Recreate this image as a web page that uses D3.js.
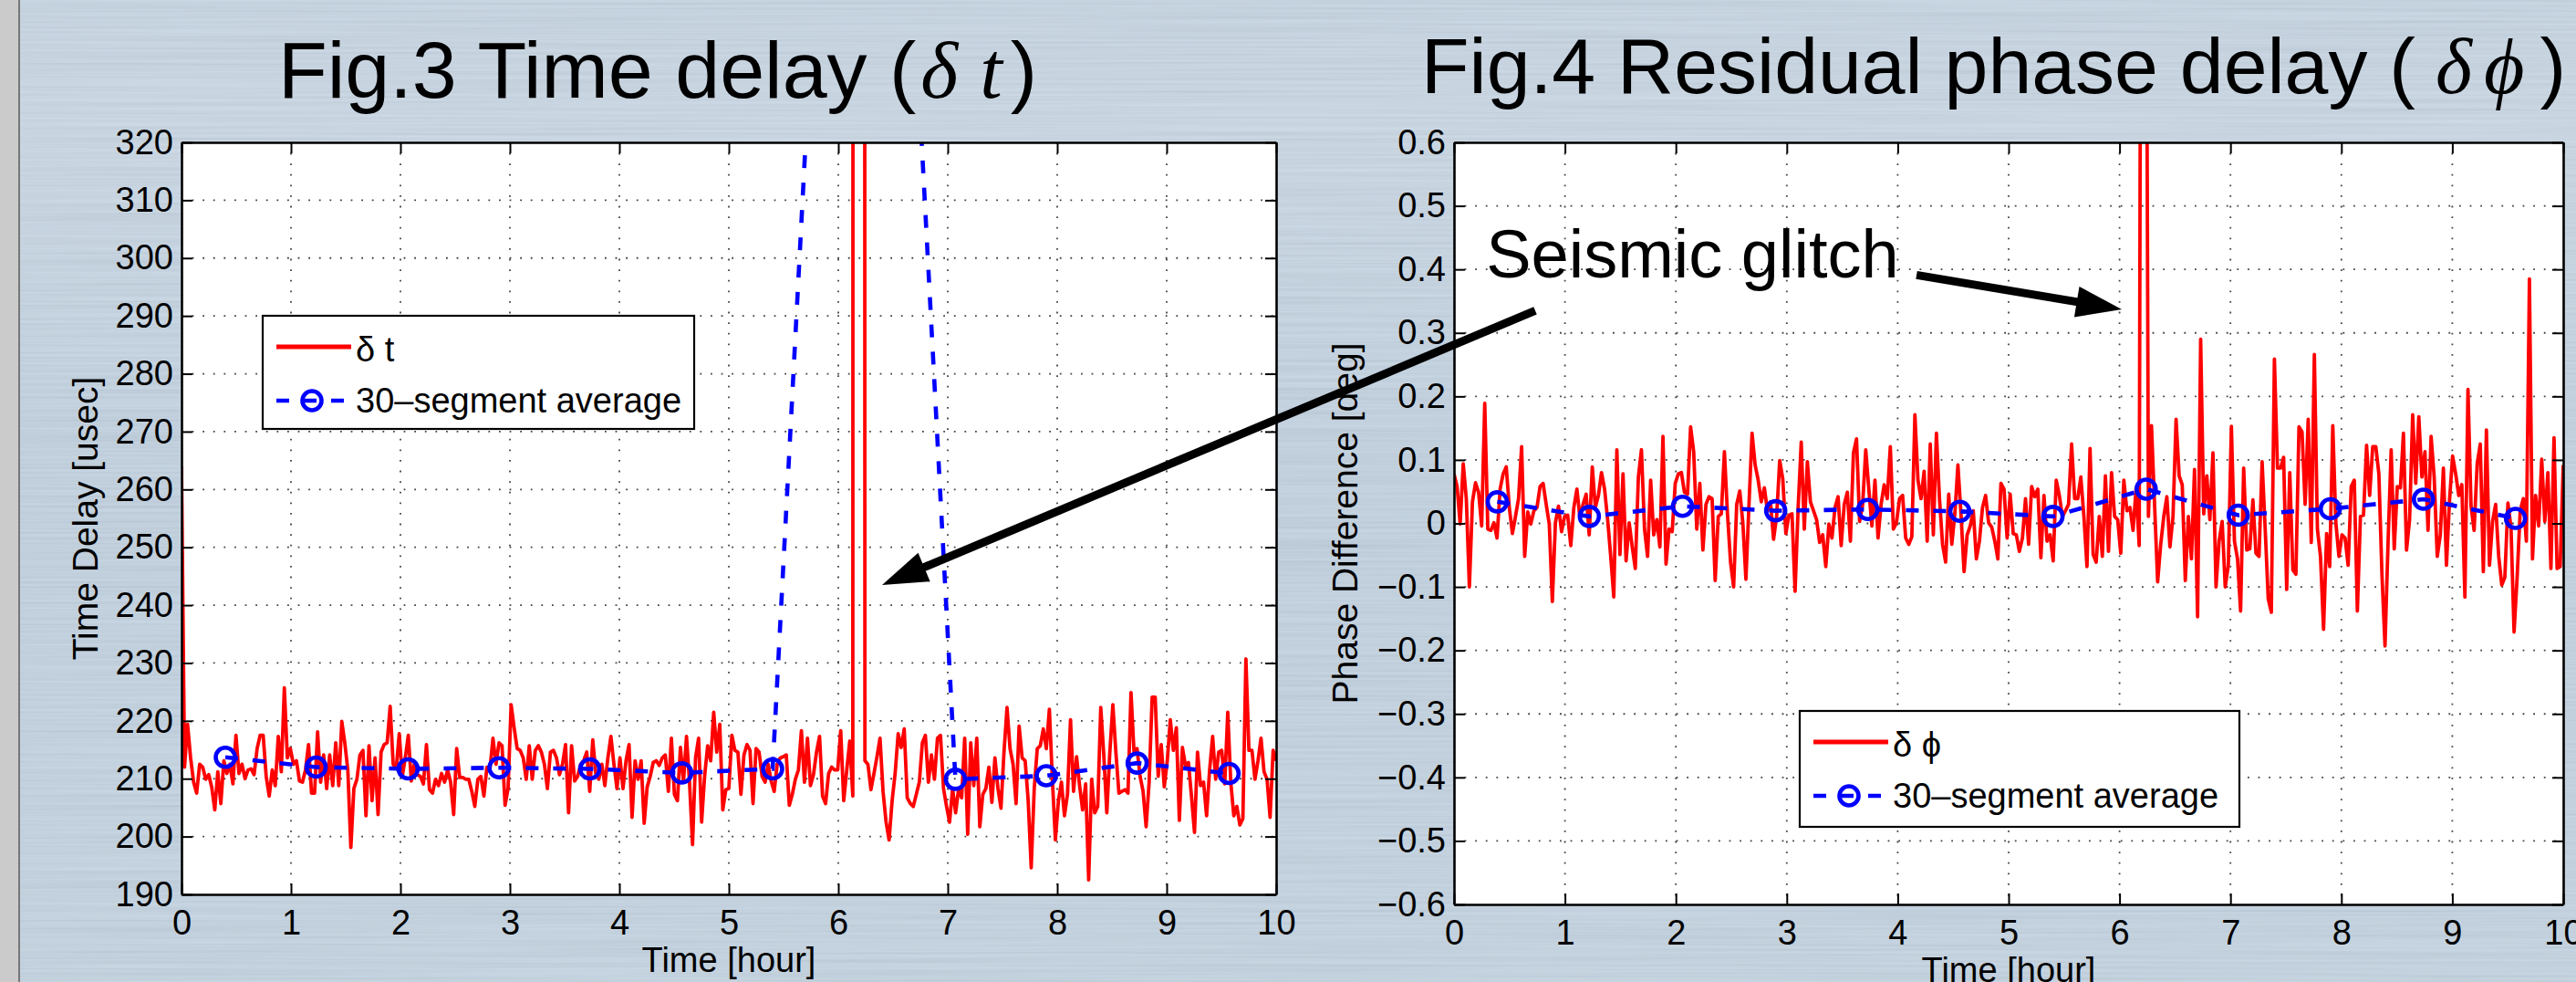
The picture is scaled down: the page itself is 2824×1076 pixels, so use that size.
<!DOCTYPE html>
<html><head><meta charset="utf-8">
<script src="https://cdn.jsdelivr.net/npm/d3@7"></script>
<style>html,body{margin:0;padding:0;overflow:hidden;background:#bccad9}</style>
</head><body>
<svg id="c" width="2824" height="1076" xmlns="http://www.w3.org/2000/svg"></svg>
<script>
// ---------------- data ----------------
const hourSpan = [0, 10];
const hourTicks = [0,1,2,3,4,5,6,7,8,9,10];
const delayTicks = [190,200,210,220,230,240,250,260,270,280,290,300,310,320];
const phaseTicks = [-0.6,-0.5,-0.4,-0.3,-0.2,-0.1,0,0.1,0.2,0.3,0.4,0.5,0.6];
const phaseTickLabels = ["\u22120.6","\u22120.5","\u22120.4","\u22120.3","\u22120.2","\u22120.1","0","0.1","0.2","0.3","0.4","0.5","0.6"];

// Fig.3 time delay (usec), one value per segment, evenly spaced over 0..10 h
const delayValues = [
264,212.0,219.4,213.6,209.4,207.5,212.5,212.0,209.9,210.7,208.5,
204.6,211.2,205.7,213.1,210.9,212.5,209.1,217.5,210.9,212.5,210.0,
211.5,211.7,210.7,215.2,217.5,217.5,210.4,207.0,211.5,208.8,217.3,
211.2,225.7,213.6,215.2,212.5,213.1,209.6,209.4,211.5,215.9,
207.5,207.5,218.1,209.4,214.1,208.3,214.1,208.8,216.2,208.8,
219.9,216.2,211.5,198.1,208.3,209.9,214.1,214.9,203.6,215.7,
206.2,213.6,203.8,214.6,215.9,216.2,222.5,212.5,211.7,217.8,
210.4,213.6,217.5,209.6,212.5,210.7,210.4,209.1,215.9,208.1,
207.5,209.9,208.8,210.9,209.4,211.5,209.4,203.8,215.2,210.2,
210.2,209.9,209.9,207.8,205.2,209.9,210.4,207.0,212.0,211.7,
217.0,212.5,216.2,215.7,205.4,208.3,222.8,218.8,215.2,214.9,
213.6,209.9,215.7,209.9,214.9,215.7,214.6,212.5,208.3,214.6,
214.9,213.6,210.7,212.5,215.9,204.1,215.7,209.6,210.4,212.5,
213.1,214.6,207.8,216.7,210.9,209.9,212.5,208.8,213.6,217.3,
212.5,208.3,213.6,208.3,213.1,215.9,203.3,213.1,209.9,213.1,
202.3,208.6,210.4,212.8,213.1,212.3,213.6,214.1,207.8,217.0,
207.3,206.2,215.4,209.4,217.3,209.4,198.6,213.6,217.0,202.5,210.5,
215.7,213.1,221.5,214.6,219.4,204.6,208.1,208.3,217.5,214.9,
214.6,207.3,214.1,215.9,214.9,205.7,215.2,214.6,210.4,209.4,
212.5,209.6,207.8,212.5,213.6,213.8,214.1,205.4,207.3,209.9,
211.5,218.3,209.4,217.0,208.8,210.7,214.6,217.3,207.0,205.7,
210.9,212.0,211.5,211.5,218.3,206.2,211.5,216.5,207.0,
2800,5200,2600,
213.1,212.5,208.1,210.9,213.8,217.0,207.8,202.5,199.4,206.2,
210.9,217.8,215.4,218.6,206.7,205.7,205.2,207.3,
209.4,216.2,217.5,209.4,214.1,209.9,217.0,217.5,208.3,205.2,
202.5,208.3,204.1,208.3,206.7,217.0,200.4,216.2,208.8,217.0,
201.7,207.3,208.3,212.0,205.9,213.6,208.3,204.9,214.6,222.3,
215.2,212.5,205.7,219.1,213.6,213.1,206.2,194.6,208.3,215.2,
215.7,218.6,215.2,222.0,209.9,199.4,206.2,209.4,203.6,207.3,
220.2,207.8,213.8,208.8,204.6,209.1,192.5,209.9,204.1,205.2,
222.3,214.1,204.1,214.6,222.8,214.6,207.5,207.8,208.1,207.5,
224.9,214.6,215.2,210.4,207.8,201.7,209.4,224.1,224.1,210.4,
215.9,208.6,213.1,220.2,214.9,218.8,202.8,215.4,212.3,212.8,
207.0,200.7,214.6,208.8,209.4,203.6,211.5,217.3,209.9,214.6,
214.9,209.1,221.5,209.4,203.6,205.2,202.0,203.1,230.7,214.9,
214.9,209.9,213.1,217.0,211.2,209.9,203.3,214.9,213.1
];
const delayAvgHours  = [0.40,1.23,2.07,2.90,3.73,4.57,5.40,6.23,7.07,7.90,8.73,9.57];
const delayAvgValues = [213.7,212.0,211.7,211.9,211.7,211.0,211.7,510,209.9,210.5,212.7,210.9];

// Fig.4 residual phase delay (deg)
const phaseValues = [
0.078,0.058,-0.001,0.094,0.039,-0.100,0.034,0.064,0.049,-0.004,
0.189,-0.009,-0.011,0.001,-0.023,0.054,0.078,0.089,0.025,-0.016,
0.011,0.039,0.121,-0.052,0.018,-0.001,0.020,0.025,0.058,0.063,
0.030,-0.001,-0.123,0.001,0.027,-0.013,0.011,0.013,
-0.035,0.025,0.054,0.008,0.030,0.046,-0.018,0.089,0.025,0.044,
0.080,0.054,0.006,-0.052,-0.116,0.116,-0.049,0.078,-0.059,0.001,
-0.037,-0.071,0.073,0.116,-0.009,-0.052,0.068,-0.018,0.006,-0.037,
0.137,-0.064,-0.009,-0.013,0.063,0.078,0.080,0.049,0.046,0.152,
0.113,-0.009,0.063,-0.042,0.030,0.042,0.039,-0.090,0.011,0.015,
0.113,0.015,-0.061,-0.100,0.030,0.051,0.001,-0.088,0.030,0.142,
0.092,0.068,0.034,0.056,0.020,0.034,-0.025,0.011,0.099,0.070,
-0.016,0.013,0.015,-0.107,0.025,0.128,-0.009,0.097,0.034,0.020,
0.006,-0.030,-0.018,
-0.068,-0.001,-0.023,0.025,0.042,-0.035,0.030,0.049,-0.028,0.111,
0.133,0.003,0.030,0.116,0.054,-0.004,0.068,-0.023,0.030,0.061,
0.039,0.121,-0.009,0.001,0.039,0.044,-0.023,-0.033,-0.021,0.171,
0.068,0.039,0.082,-0.028,0.125,-0.018,0.142,0.039,-0.033,-0.061,
0.046,-0.033,0.015,0.092,0.015,-0.076,-0.018,-0.004,0.020,-0.056,
-0.028,0.025,0.044,0.001,-0.006,-0.028,-0.056,0.063,0.054,-0.023,
0.046,-0.016,-0.018,-0.044,-0.023,0.039,-0.033,0.058,0.042,0.054,
-0.054,0.044,-0.028,-0.018,-0.059,0.068,0.044,0.011,0.020,0.030,
0.125,0.039,0.039,0.073,0.011,-0.068,0.118,-0.049,-0.061,0.011,
-0.052,0.075,-0.044,0.080,0.011,0.006,-0.047,0.068,0.020,0.025,
-0.011,0.056,-0.035,2.0,1.4,
0.011,0.154,0.030,-0.092,-0.033,0.011,0.042,-0.037,0.011,0.164,
0.075,0.061,-0.090,0.011,-0.056,0.085,
-0.147,0.29,0.015,0.075,0.006,0.111,-0.100,-0.028,0.003,-0.100,
-0.066,0.153,-0.028,-0.056,-0.138,0.087,-0.042,-0.040,0.037,-0.047,
-0.052,0.097,-0.009,-0.119,-0.140,0.259,0.087,0.087,0.104,-0.104,
0.080,-0.073,-0.080,0.152,0.144,0.030,0.164,-0.030,0.266,-0.009,
-0.052,-0.167,-0.016,-0.068,0.154,0.001,-0.052,-0.018,-0.023,-0.066,
0.058,0.068,-0.138,0.011,0.013,0.123,0.044,0.121,0.121,0.078,
-0.080,-0.193,-0.028,0.116,-0.040,0.058,0.056,0.142,-0.042,0.006,
0.171,0.063,0.168,0.073,0.113,-0.011,0.137,0.073,-0.052,-0.018,
0.087,-0.066,0.037,0.106,0.078,0.044,0.061,-0.116,0.211,0.027,
-0.011,0.094,0.125,-0.076,0.147,-0.066,0.003,0.030,-0.052,-0.097,
-0.085,0.032,-0.006,-0.171,-0.085,0.020,0.039,-0.028,0.385,-0.056,
0.044,-0.004,0.101,0.003,0.080,-0.071,0.135,-0.071,-0.068,0.092
];
const phaseAvgHours  = [0.39,1.22,2.06,2.90,3.73,4.56,5.40,6.24,7.07,7.90,8.74,9.57];
const phaseAvgValues = [0.034,0.011,0.027,0.020,0.022,0.019,0.011,0.054,0.013,0.023,0.038,0.008];

// annotation anchors (in data coordinates of the panels)
const glitchLabel = {hour: 0.29, value: 0.388};
const arrowToPhase = {from: [4.17, 0.391], to: [6.02, 0.337]};
const arrowToDelay = {from: [0.732, 0.335], to: [6.40, 243.5]};

// ---------------- drawing ----------------
const SANS = "'Liberation Sans', Arial, Helvetica, sans-serif";
const SERIF = "'Liberation Serif', 'DejaVu Serif', serif";
const RED = "#ff0000", BLUE = "#0000ff";
const W = 2824, H = 1076;
const svg = d3.select("#c");
const defs = svg.append("defs");

// background
const grad = defs.append("linearGradient").attr("id","bgGrad").attr("x1",0).attr("y1",0).attr("x2",0).attr("y2",1);
[[0,"#c6d5e3"],[0.12,"#cad8e5"],[0.45,"#c2d2e1"],[1,"#c4d4e2"]].forEach(s=>grad.append("stop").attr("offset",s[0]).attr("stop-color",s[1]));
const flt = defs.append("filter").attr("id","brush").attr("filterUnits","userSpaceOnUse")
  .attr("x",0).attr("y",0).attr("width",W).attr("height",H);
flt.append("feTurbulence").attr("type","fractalNoise").attr("baseFrequency","0.0025 0.35").attr("numOctaves",3).attr("seed",5).attr("result","n");
flt.append("feColorMatrix").attr("in","n").attr("type","matrix")
  .attr("values","1 0 0 0 0  1 0 0 0 0  1 0 0 0 0  0 0 0 0 0.11");
svg.append("rect").attr("width",W).attr("height",H).attr("fill","url(#bgGrad)");
svg.append("rect").attr("width",W).attr("height",H).attr("fill","#fff").attr("filter","url(#brush)");
svg.append("rect").attr("x",0).attr("y",0).attr("width",21).attr("height",H).attr("fill","#cbcbcb");
svg.append("line").attr("x1",21).attr("x2",21).attr("y1",0).attr("y2",H).attr("stroke","#5a5a5a").attr("stroke-width",1.5);

function drawPanel(o){
  const g = svg.append("g");
  const x = d3.scaleLinear().domain(hourSpan).range([o.left, o.right]);
  const y = d3.scaleLinear().domain(o.domain).range([o.bottom, o.top]);
  g.append("rect").attr("x",o.left).attr("y",o.top).attr("width",o.right-o.left).attr("height",o.bottom-o.top).attr("fill","#fff");

  // dotted grid
  const grid = g.append("g").attr("stroke","#444").attr("stroke-width",1.8).attr("stroke-dasharray","1.8,9.8");
  grid.selectAll("line.v").data(hourTicks.slice(1,-1)).join("line").attr("class","v")
    .attr("x1",d=>x(d)).attr("x2",d=>x(d)).attr("y1",o.top).attr("y2",o.bottom);
  grid.selectAll("line.h").data(o.ticks.slice(1,-1)).join("line").attr("class","h")
    .attr("y1",d=>y(d)).attr("y2",d=>y(d)).attr("x1",o.left).attr("x2",o.right);

  // clip
  const cid = "clip" + o.id;
  defs.append("clipPath").attr("id",cid).append("rect")
    .attr("x",o.left).attr("y",o.top).attr("width",o.right-o.left).attr("height",o.bottom-o.top);
  const plot = g.append("g").attr("clip-path",`url(#${cid})`);

  const n = o.values.length;
  const step = (hourSpan[1]-hourSpan[0])/(n-1);
  const line = d3.line().x((d,i)=>x(hourSpan[0]+i*step)).y(d=>y(d));
  plot.append("path").datum(o.values).attr("d",line).attr("fill","none")
    .attr("stroke",RED).attr("stroke-width",3.8).attr("stroke-linejoin","round");

  const avg = o.avgHours.map((h,i)=>[h,o.avgValues[i]]);
  plot.append("path").datum(avg).attr("d",d3.line().x(d=>x(d[0])).y(d=>y(d[1])))
    .attr("fill","none").attr("stroke",BLUE).attr("stroke-width",4.6).attr("stroke-dasharray","14,16");
  plot.selectAll("circle.m").data(avg).join("circle").attr("class","m")
    .attr("cx",d=>x(d[0])).attr("cy",d=>y(d[1])).attr("r",10.5)
    .attr("fill","none").attr("stroke",BLUE).attr("stroke-width",4.6);

  // axes (ticks pointing inward, box on)
  const style = sel => {
    sel.selectAll(".domain").attr("stroke","#000").attr("stroke-width",2.6);
    sel.selectAll(".tick line").attr("stroke","#000").attr("stroke-width",2);
    sel.selectAll("text").attr("font-family",SANS).attr("font-size",38).attr("fill","#000");
    sel.attr("font-family",SANS);
  };
  g.append("g").attr("transform",`translate(0,${o.bottom})`)
    .call(d3.axisBottom(x).tickValues(hourTicks).tickFormat(d3.format("d")).tickSize(-12).tickSizeOuter(0).tickPadding(17)).call(style);
  g.append("g").attr("transform",`translate(0,${o.top})`)
    .call(d3.axisTop(x).tickValues(hourTicks).tickFormat("").tickSize(-12).tickSizeOuter(0)).call(style);
  g.append("g").attr("transform",`translate(${o.left},0)`)
    .call(d3.axisLeft(y).tickValues(o.ticks).tickFormat((d,i)=>o.tickLabels[i]).tickSize(-12).tickSizeOuter(0).tickPadding(9)).call(style);
  g.append("g").attr("transform",`translate(${o.right},0)`)
    .call(d3.axisRight(y).tickValues(o.ticks).tickFormat("").tickSize(-12).tickSizeOuter(0)).call(style);

  // axis labels
  g.append("text").attr("x",(o.left+o.right)/2).attr("y",o.bottom+85).attr("text-anchor","middle")
    .attr("font-family",SANS).attr("font-size",38).text("Time [hour]");
  g.append("text").attr("transform",`translate(${o.ylabelX},${(o.top+o.bottom)/2}) rotate(-90)`)
    .attr("text-anchor","middle").attr("font-family",SANS).attr("font-size",39).text(o.ylabel);

  // legend
  const L = o.legend;
  const lg = g.append("g");
  lg.append("rect").attr("x",L.x).attr("y",L.y).attr("width",L.w).attr("height",L.h)
    .attr("fill","#fff").attr("stroke","#000").attr("stroke-width",2.2);
  lg.append("line").attr("x1",L.x+15).attr("x2",L.x+97).attr("y1",L.y+34).attr("y2",L.y+34)
    .attr("stroke",RED).attr("stroke-width",5);
  lg.append("text").attr("x",L.x+102).attr("y",L.y+50).attr("font-family",SANS).attr("font-size",38).text(o.legendLabel);
  lg.append("line").attr("x1",L.x+15).attr("x2",L.x+92).attr("y1",L.y+93).attr("y2",L.y+93)
    .attr("stroke",BLUE).attr("stroke-width",4.6).attr("stroke-dasharray","14,16");
  lg.append("circle").attr("cx",L.x+54).attr("cy",L.y+93).attr("r",10.5)
    .attr("fill","none").attr("stroke",BLUE).attr("stroke-width",4.6);
  lg.append("text").attr("x",L.x+102).attr("y",L.y+106).attr("font-family",SANS).attr("font-size",38).text("30\u2013segment average");

  return {x, y};
}

const P3 = drawPanel({
  id: 3, left: 199, right: 1399, top: 156, bottom: 980,
  domain: [190, 320], ticks: delayTicks, tickLabels: delayTicks.map(String),
  values: delayValues, avgHours: delayAvgHours, avgValues: delayAvgValues,
  ylabel: "Time Delay [usec]", ylabelX: 107,
  legend: {x: 288, y: 346, w: 473, h: 124}, legendLabel: "\u03b4 t"
});
const P4 = drawPanel({
  id: 4, left: 1594, right: 2810, top: 156, bottom: 991,
  domain: [-0.6, 0.6], ticks: phaseTicks, tickLabels: phaseTickLabels,
  values: phaseValues, avgHours: phaseAvgHours, avgValues: phaseAvgValues,
  ylabel: "Phase Difference [deg]", ylabelX: 1488,
  legend: {x: 1973, y: 779, w: 482, h: 127}, legendLabel: "\u03b4 \u03d5"
});

// titles
function title(x0, yb, size, lead, parts, closeDx){
  const t = svg.append("text").attr("x",x0).attr("y",yb).attr("font-family",SANS).attr("font-size",size).attr("fill","#000");
  t.append("tspan").text(lead + "(");
  parts.forEach(p=>t.append("tspan").attr("font-family",SERIF).attr("font-style","italic").attr("dx",p[1]).text(p[0]));
  t.append("tspan").attr("font-family",SANS).attr("font-style","normal").attr("dx",closeDx).text(")");
}
title(305, 107, 88, "Fig.3 Time delay ", [["\u03b4",5],["t",24]], 9);
title(1558, 102, 86, "Fig.4 Residual phase delay ", [["\u03b4",22],["\u03d5",13]], 17);

// annotation
svg.append("text").attr("x",P4.x(glitchLabel.hour)).attr("y",P4.y(glitchLabel.value))
  .attr("font-family",SANS).attr("font-size",74).attr("fill","#000").text("Seismic glitch");

function arrow(p0, p1){
  const dx=p1[0]-p0[0], dy=p1[1]-p0[1], Ln=Math.hypot(dx,dy), ux=dx/Ln, uy=dy/Ln;
  const hl=50, hw=17;
  const bx=p1[0]-ux*hl, by=p1[1]-uy*hl;
  svg.append("line").attr("x1",p0[0]).attr("y1",p0[1]).attr("x2",bx+ux*4).attr("y2",by+uy*4)
    .attr("stroke","#000").attr("stroke-width",9);
  svg.append("path").attr("d",`M${p1[0]},${p1[1]}L${bx-uy*hw},${by+ux*hw}L${bx+uy*hw},${by-ux*hw}Z`).attr("fill","#000");
}
arrow([P4.x(arrowToPhase.from[0]), P4.y(arrowToPhase.from[1])], [P4.x(arrowToPhase.to[0]), P4.y(arrowToPhase.to[1])]);
arrow([P4.x(arrowToDelay.from[0]), P4.y(arrowToDelay.from[1])], [P3.x(arrowToDelay.to[0]), P3.y(arrowToDelay.to[1])]);
</script>
</body></html>
